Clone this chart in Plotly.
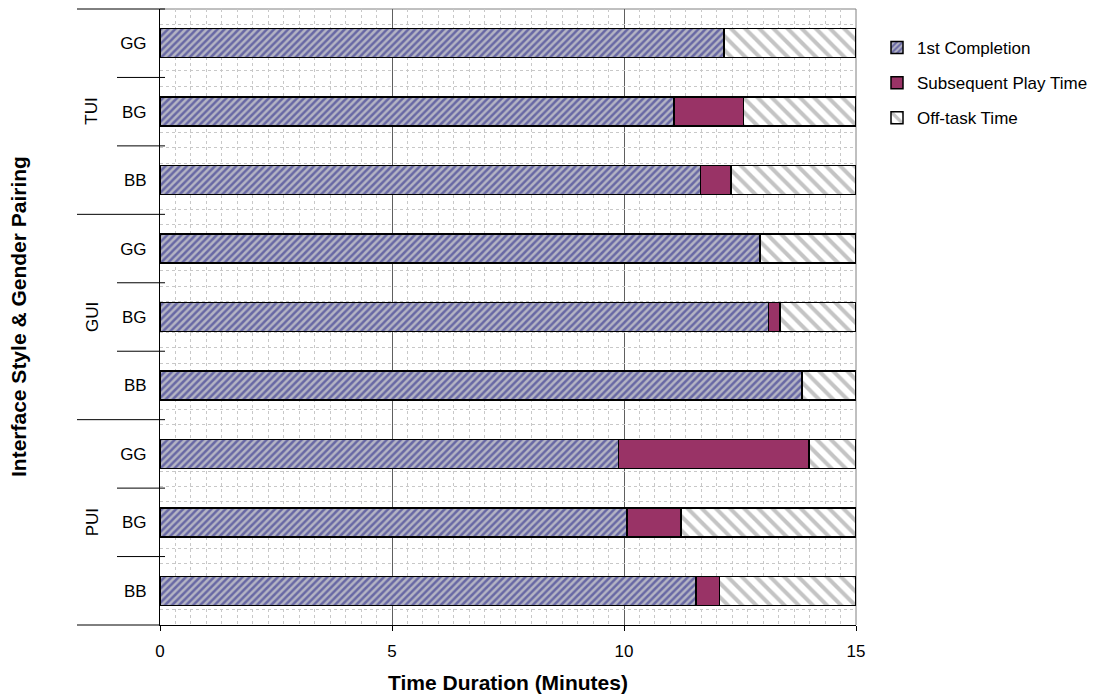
import plotly.graph_objects as go

# ---- data (bottom to top) ----
groups = ["PUI", "PUI", "PUI", "GUI", "GUI", "GUI", "TUI", "TUI", "TUI"]
pairings = ["BB", "BG", "GG", "BB", "BG", "GG", "BB", "BG", "GG"]
first_completion = [11.55, 10.06, 9.88, 13.84, 13.11, 12.93, 11.65, 11.08, 12.16]
subsequent_play = [0.51, 1.17, 4.11, 0.00, 0.25, 0.00, 0.66, 1.49, 0.00]
off_task = [round(15 - a - b, 2) for a, b in zip(first_completion, subsequent_play)]
x_ticks = [0, 5, 10, 15]
series_names = ["1st Completion", "Subsequent Play Time", "Off-task Time"]
group_names = ["PUI", "GUI", "TUI"]

cats = [f"{g} {p}" for g, p in zip(groups, pairings)]

FONT = "Liberation Sans, Arial, sans-serif"
OFF = 8  # page body margin
W, H = 1101 - OFF, 696 - OFF
# plot area in screen pixels: x 160..856, y 9..625
L = 160 - OFF
T = 9 - OFF
R = W - (856 - OFF)
B = H - (625 - OFF)
PW, PH = W - L - R, H - T - B

def px_x(px):  # screen px -> paper x
    return (px - 160) / PW

def px_y(py):  # screen px -> paper y
    return (625 - py) / PH

fig = go.Figure()
line = dict(color="black", width=1.5)
fig.add_trace(go.Bar(
    y=cats, x=first_completion, orientation="h", name=series_names[0],
    legendgroup="a",
    marker=dict(color="#b4b4c4", line=line,
                pattern=dict(shape="/", fgcolor="#6868a4", bgcolor="#b4b4c4",
                             size=5, solidity=0.5, fillmode="replace")),
))
fig.add_trace(go.Bar(
    y=cats, x=subsequent_play, orientation="h", name=series_names[1],
    legendgroup="b",
    marker=dict(color="#993366", line=line),
))
fig.add_trace(go.Bar(
    y=cats, x=off_task, orientation="h", name=series_names[2],
    legendgroup="c",
    marker=dict(color="white", line=line,
                pattern=dict(shape="\\", fgcolor="#c4c4c4", bgcolor="white",
                             size=10, solidity=0.4, fillmode="replace")),
))
# invisible trace to activate dotted horizontal grid axis
fig.add_trace(go.Scatter(x=[0], y=[0], yaxis="y2", mode="markers",
                         marker=dict(opacity=0), showlegend=False,
                         hoverinfo="skip"))

fig.update_layout(
    width=W, height=H,
    margin=dict(l=L, r=R, t=T, b=B, autoexpand=False),
    paper_bgcolor="white", plot_bgcolor="white",
    barmode="stack", bargap=0.576,
    font=dict(family=FONT, size=17, color="black"),
    xaxis=dict(range=[0, 15], tickvals=x_ticks, ticks="outside", ticklen=5,
               tickcolor="black", tickwidth=1,
               showline=True, linecolor="black", linewidth=1,
               showgrid=True, gridcolor="#606060", gridwidth=1,
               zeroline=False, tickfont=dict(size=17), ticklabelstandoff=6,
               minor=dict(dtick=1/3, tick0=0, showgrid=True,
                          gridcolor="#c8c8c8", griddash="dot", gridwidth=1)),
    yaxis=dict(type="category", categoryorder="array", categoryarray=cats,
               tickvals=cats, ticktext=pairings, ticks="",
               showline=True, linecolor="black", linewidth=1,
               showgrid=False, zeroline=False, tickfont=dict(size=17),
               ticklabelstandoff=9, range=[-0.5, 8.5]),
    yaxis2=dict(overlaying="y", range=[0, 40], dtick=1, showticklabels=False,
                showgrid=True, gridcolor="#c8c8c8", griddash="dot",
                zeroline=False, showline=False, ticks=""),
    legend=dict(x=px_x(877), y=px_y(30), xanchor="left", yanchor="top",
                font=dict(size=17), traceorder="grouped", tracegroupgap=10,
                bgcolor="rgba(0,0,0,0)"),
    showlegend=True,
)

shapes = []
shapes.append(dict(type="line", xref="paper", yref="paper", x0=0, x1=1, y0=1, y1=1,
                   line=dict(color="#808080", width=1), layer="below"))
shapes.append(dict(type="line", xref="paper", yref="paper", x0=1, x1=1, y0=0, y1=1,
                   line=dict(color="#808080", width=1), layer="below"))
for k in range(10):
    yk = k / 9
    x0 = px_x(77) if k % 3 == 0 else px_x(117)
    x1 = 0 if k == 0 else px_x(165)
    shapes.append(dict(type="line", xref="paper", yref="paper", x0=x0, x1=x1,
                       y0=yk, y1=yk, line=dict(color="black", width=1)))
fig.update_layout(shapes=shapes)

ann = []
for gi, g in enumerate(group_names):
    ann.append(dict(text=g, xref="paper", yref="paper", x=px_x(92),
                    y=(gi * 3 + 1.5) / 9, textangle=-90, showarrow=False,
                    font=dict(size=17), xanchor="center", yanchor="middle"))
ann.append(dict(text="<b>Interface Style & Gender Pairing</b>", xref="paper",
                yref="paper", x=px_x(18), y=0.5, textangle=-90, showarrow=False,
                font=dict(size=21), xanchor="center", yanchor="middle"))
ann.append(dict(text="<b>Time Duration (Minutes)</b>", xref="paper",
                yref="paper", x=0.5, y=px_y(682), showarrow=False,
                font=dict(size=21), xanchor="center", yanchor="middle"))
fig.update_layout(annotations=ann)

fig.write_html("out.html")
